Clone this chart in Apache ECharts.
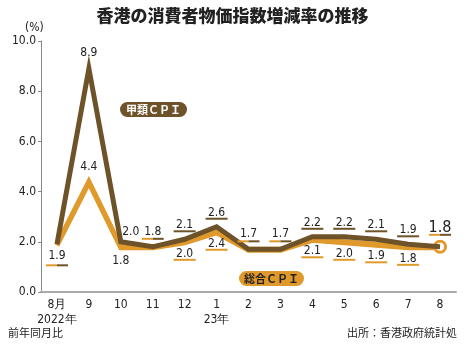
<!DOCTYPE html>
<html>
<head>
<meta charset="utf-8">
<script src="https://cdn.jsdelivr.net/npm/echarts@6/dist/echarts.min.js"></script>
<style>
  html, body { margin: 0; padding: 0; background: #fff; }
  #chart { width: 465px; height: 347px; }
</style>
</head>
<body>
<div id="chart"></div>
<script>
// Months (Aug 2022 – Aug 2023)
var months = ['8月\n2022年', '9', '10', '11', '12', '1\n23年', '2', '3', '4', '5', '6', '7', '8'];
// Category A CPI, year-on-year %
var cpiA = [1.9, 8.9, 2.0, 1.8, 2.1, 2.6, 1.7, 1.7, 2.2, 2.2, 2.1, 1.9, 1.8];
// Composite CPI, year-on-year %
var cpiAll = [1.9, 4.4, 1.8, 1.8, 2.0, 2.4, 1.7, 1.7, 2.1, 2.0, 1.9, 1.8, 1.8];
// Y axis ticks
var yTicks = [0, 2, 4, 6, 8, 10];

var BROWN = '#6e5229';
var ORANGE = '#e0992b';
var NUM_FONT = "'Liberation Sans Narrow', 'DejaVu Sans Condensed', sans-serif";
var JP_FONT = "'Noto Sans CJK JP', sans-serif";

var chart = echarts.init(document.getElementById('chart'), null, { renderer: 'canvas' });

function labelText(x, y, str, size) {
  return {
    type: 'text',
    style: {
      x: x, y: y, text: str, align: 'center', verticalAlign: 'middle',
      font: size + 'px ' + NUM_FONT, fill: '#222'
    }
  };
}
function bar(x, y, w, color) {
  return { type: 'rect', shape: { x: x, y: y - 1, width: w, height: 2 }, style: { fill: color } };
}

// Value labels with underlines, positioned from the axis coordinates of each point
function renderLabels(params, api) {
  var i = api.value(0);
  var a = cpiA[i], c = cpiAll[i];
  var pa = api.coord([i, a]);
  var pc = api.coord([i, c]);
  var last = i === months.length - 1;
  var fs = last ? 16 : 12;
  var w = 22;
  var children = [];
  var s = function (v) { return v.toFixed(1); };
  if (i === 1) {
    children.push(labelText(pa[0], pa[1] - 16, s(a), fs));
    children.push(labelText(pc[0], pc[1] - 15, s(c), fs));
  } else if (i === 2) {
    children.push(labelText(pa[0] + 10, pa[1] - 10, s(a), fs));
    children.push(labelText(pc[0], pc[1] + 14, s(c), fs));
  } else if (a === c) {
    var dy = i === 0 ? 12 : -15;
    var uy = i === 0 ? 21 : -8;
    if (last) { dy = -19; uy = -12; }
    children.push(labelText(pa[0], pa[1] + dy, s(a), fs));
    children.push(bar(pa[0] - w / 2, pa[1] + uy, w / 2, ORANGE));
    children.push(bar(pa[0], pa[1] + uy, w / 2, BROWN));
  } else {
    children.push(labelText(pa[0], pa[1] - 14, s(a), fs));
    children.push(bar(pa[0] - w / 2, pa[1] - 8, w, BROWN));
    children.push(labelText(pc[0], pc[1] + 12, s(c), fs));
    children.push(bar(pc[0] - w / 2, pc[1] + 18, w, ORANGE));
  }
  return { type: 'group', children: children };
}

var option = {
  animation: false,
  backgroundColor: '#fff',
  title: {
    text: '香港の消費者物価指数増減率の推移',
    left: 'center', top: 2,
    textStyle: { fontFamily: JP_FONT, fontSize: 17, fontWeight: 900, color: '#222' }
  },
  grid: { left: 41, right: 9, top: 41, bottom: 55 },
  xAxis: {
    type: 'category',
    data: months,
    boundaryGap: true,
    axisLine: { lineStyle: { color: '#aaa', width: 2 } },
    axisTick: { show: false },
    axisLabel: {
      color: '#222', fontFamily: NUM_FONT, fontSize: 12, margin: 5, lineHeight: 15,
      interval: 0
    }
  },
  yAxis: {
    type: 'value', min: yTicks[0], max: yTicks[yTicks.length - 1], interval: 2,
    name: '(%)', nameLocation: 'end', nameGap: 7,
    nameTextStyle: { color: '#222', fontFamily: NUM_FONT, fontSize: 12, align: 'left', padding: [0, 0, 0, -16] },
    axisLine: { show: true, lineStyle: { color: '#888', width: 1 } },
    axisTick: { show: true, length: 3, lineStyle: { color: '#888' } },
    splitLine: { show: false },
    axisLabel: {
      color: '#222', fontFamily: NUM_FONT, fontSize: 12, margin: 5,
      formatter: function (v) { return v.toFixed(1); }
    }
  },
  graphic: [
    {
      type: 'text', left: 120, top: 102,
      style: {
        text: '甲類ＣＰＩ', font: 'bold 11px ' + JP_FONT, fill: '#fff',
        backgroundColor: BROWN, borderRadius: 8, padding: [2, 6, 2, 6]
      }
    },
    {
      type: 'text', left: 239, top: 271,
      style: {
        text: '総合ＣＰＩ', font: 'bold 11px ' + JP_FONT, fill: '#222',
        backgroundColor: ORANGE, borderRadius: 8, padding: [2, 5, 2, 5]
      }
    },
    {
      type: 'text', left: 8, top: 327,
      style: { text: '前年同月比', font: '11px ' + JP_FONT, fill: '#222' }
    },
    {
      type: 'text', right: 8, top: 327,
      style: { text: '出所：香港政府統計処', font: '11px ' + JP_FONT, fill: '#222' }
    }
  ],
  series: [
    {
      name: '総合CPI',
      type: 'line',
      data: cpiAll.map(function (v, i) {
        if (i === cpiAll.length - 1) {
          return {
            value: v, symbol: 'circle', symbolSize: 11,
            itemStyle: { color: '#fff', borderColor: ORANGE, borderWidth: 3 }
          };
        }
        return { value: v, symbol: 'none' };
      }),
      showSymbol: true,
      lineStyle: {
        color: ORANGE, width: 5, join: 'miter', miterLimit: 20,
        shadowColor: ORANGE, shadowOffsetY: 1, shadowBlur: 0
      },
      z: 2
    },
    {
      name: '甲類CPI',
      type: 'line',
      data: cpiA,
      symbol: 'none',
      lineStyle: { color: BROWN, width: 5, join: 'miter', miterLimit: 20 },
      z: 3
    },
    {
      type: 'custom',
      data: months.map(function (m, i) { return [i]; }),
      renderItem: renderLabels,
      z: 5,
      silent: true
    }
  ]
};
chart.setOption(option);
</script>
</body>
</html>
